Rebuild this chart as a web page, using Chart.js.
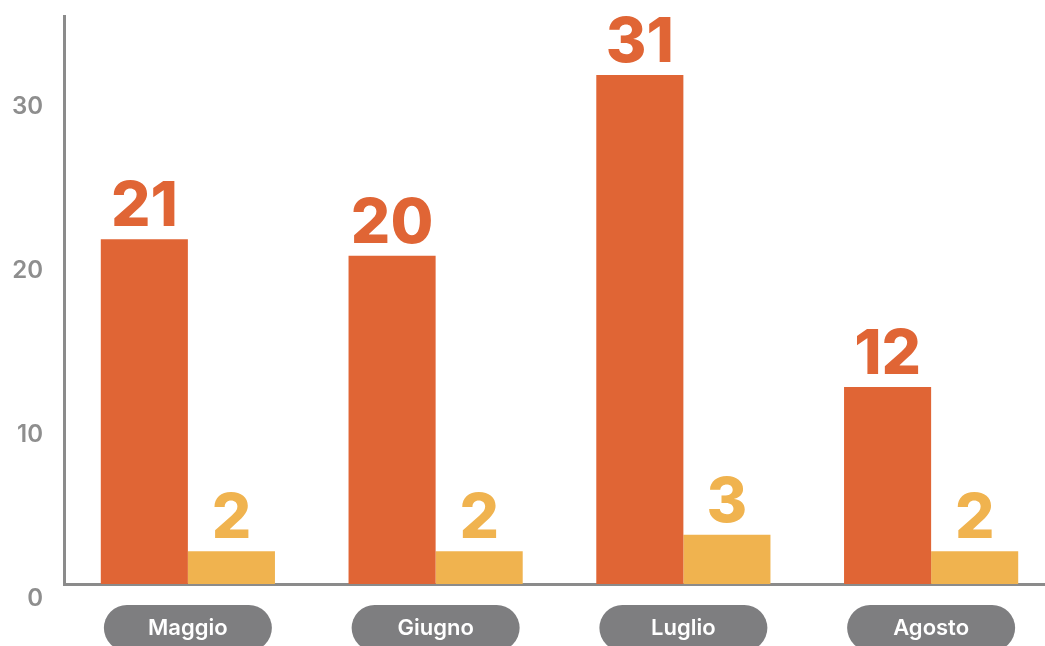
<!DOCTYPE html>
<html lang="it">
<head>
<meta charset="utf-8">
<title>Maggio - Agosto</title>
<script src="https://cdn.jsdelivr.net/npm/chart.js@4/dist/chart.umd.min.js"></script>
<style>
  html, body { margin: 0; padding: 0; background: #fff; overflow: hidden; }
  #wrap { position: relative; width: 1055px; height: 646px; }
</style>
</head>
<body>
<div id="wrap"><canvas id="chart"></canvas></div>
<script>
const months = ['Maggio', 'Giugno', 'Luglio', 'Agosto'];
const mainValues = [21, 20, 31, 12];
const smallValues = [2, 2, 3, 2];

const ORANGE = '#e06535';
const YELLOW = '#f0b34f';
const AXIS_GREY = '#8b8b8b';
const PILL_GREY = '#7e7e80';

// numbers above each bar, in the bar's colour
const valueLabels = {
  id: 'valueLabels',
  afterDatasetsDraw(chart) {
    const ctx = chart.ctx;
    ctx.save();
    ctx.font = '800 62px Inter';
    ctx.textAlign = 'center';
    ctx.textBaseline = 'alphabetic';
    chart.data.datasets.forEach((ds, di) => {
      chart.getDatasetMeta(di).data.forEach((bar, i) => {
        ctx.fillStyle = ds.backgroundColor;
        ctx.fillText(String(ds.data[i]), bar.x, bar.y - 13);
      });
    });
    ctx.restore();
  }
};

// month names inside grey rounded pills under the axis
const monthPills = {
  id: 'monthPills',
  afterDraw(chart) {
    const ctx = chart.ctx;
    const x = chart.scales.x;
    const w = 168, h = 46, top = 605;
    ctx.save();
    chart.data.labels.forEach((label, i) => {
      const cx = x.getPixelForValue(i);
      ctx.beginPath();
      ctx.roundRect(cx - w / 2, top, w, h, h / 2);
      ctx.fillStyle = PILL_GREY;
      ctx.fill();
      ctx.fillStyle = '#ffffff';
      ctx.font = '600 22px Inter';
      ctx.textAlign = 'center';
      ctx.textBaseline = 'alphabetic';
      ctx.fillText(label, cx, 635);
    });
    ctx.restore();
  }
};

new Chart(document.getElementById('chart'), {
  type: 'bar',
  data: {
    labels: months,
    datasets: [
      { label: 'Serie A', data: mainValues, backgroundColor: ORANGE },
      { label: 'Serie B', data: smallValues, backgroundColor: YELLOW }
    ]
  },
  options: {
    responsive: true,
    maintainAspectRatio: false,
    animation: false,
    layout: { padding: { top: 16, right: 0, bottom: 0, left: 0 } },
    datasets: {
      bar: { categoryPercentage: 0.703, barPercentage: 1, borderWidth: 0 }
    },
    plugins: {
      legend: { display: false },
      tooltip: { enabled: false }
    },
    scales: {
      x: {
        grid: { display: false, drawTicks: false },
        border: { display: true, color: AXIS_GREY, width: 3 },
        ticks: { display: false },
        afterFit(scale) { scale.height = 62; }
      },
      y: {
        min: 0,
        max: 34.6,
        grid: { display: false, drawTicks: false },
        border: { display: true, color: AXIS_GREY, width: 3 },
        ticks: {
          stepSize: 10,
          includeBounds: false,
          labelOffset: 15,
          padding: 21,
          color: '#8e8e8e',
          font: { family: 'Inter', size: 24, weight: '600' }
        },
        afterFit(scale) {
          scale.width = 64;
          scale.paddingTop = 0;
          scale.paddingBottom = 0;
        }
      }
    }
  },
  plugins: [valueLabels, monthPills]
});
</script>
</body>
</html>
